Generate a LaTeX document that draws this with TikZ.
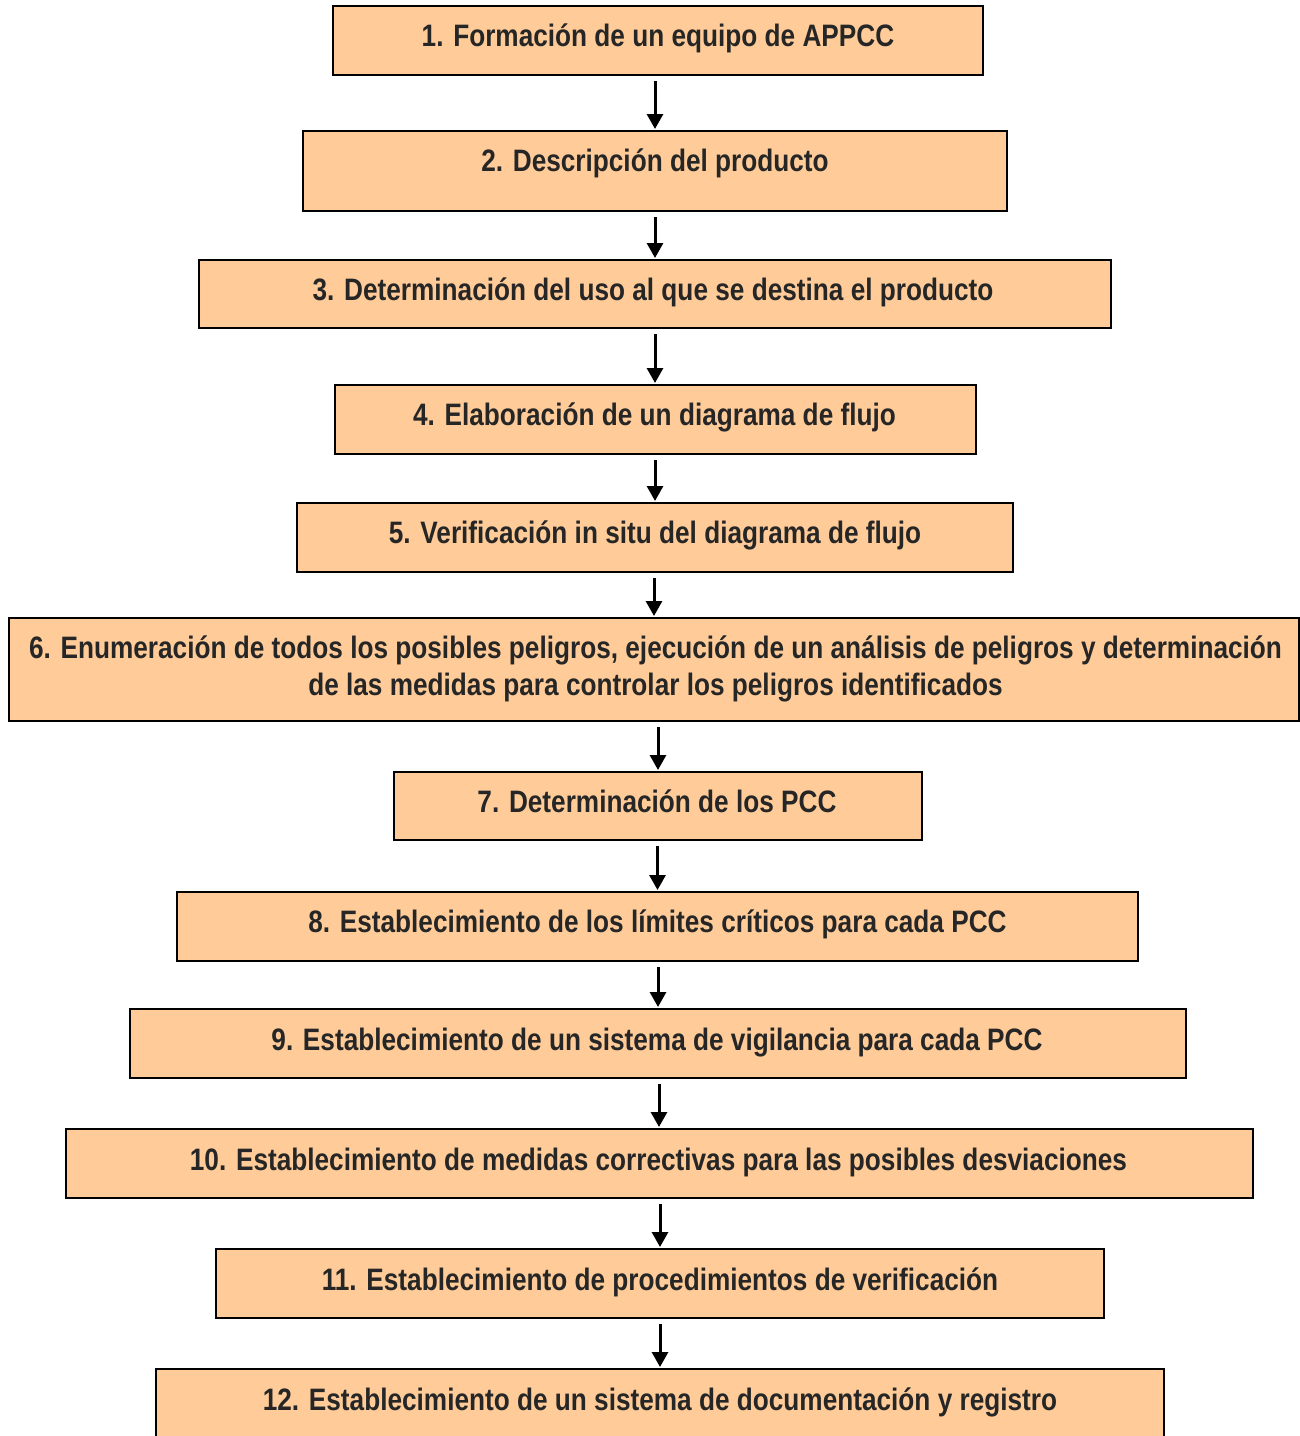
\documentclass[tikz,border=0pt]{standalone}
\usepackage{fontspec}
\setmainfont[FakeStretch=0.845]{Liberation Sans}
\usetikzlibrary{arrows.meta}
\definecolor{boxfill}{HTML}{FFCC99}
\definecolor{txt}{HTML}{262626}
\tikzset{
  box/.style={draw=black, line width=2pt, fill=boxfill, inner sep=0pt, outer sep=0pt},
  lbl/.style={anchor=base, inner sep=0pt, text=txt, font=\fontsize{31}{37}\selectfont\bfseries, align=center},
  flow/.style={-{Triangle[length=15pt,width=16pt]}, line width=3pt, shorten <=6pt, shorten >=2pt}
}
\begin{document}
\begin{tikzpicture}[x=1pt,y=-1pt]
\useasboundingbox (0,0) rectangle (1300,1436);
% boxes: centre x, centre y, width, height
\node[box, minimum width=650, minimum height=69] (b1) at (658,40.5) {};
\node[box, minimum width=704, minimum height=80] (b2) at (655,171) {};
\node[box, minimum width=912, minimum height=68] (b3) at (655,294) {};
\node[box, minimum width=641, minimum height=69] (b4) at (655,419.5) {};
\node[box, minimum width=716, minimum height=69] (b5) at (655,537.5) {};
\node[box, minimum width=1290, minimum height=103] (b6) at (654,669.5) {};
\node[box, minimum width=528, minimum height=68] (b7) at (658,806) {};
\node[box, minimum width=961, minimum height=69] (b8) at (657.5,926.5) {};
\node[box, minimum width=1056, minimum height=69] (b9) at (658,1043.5) {};
\node[box, minimum width=1187, minimum height=69] (b10) at (659,1163.5) {};
\node[box, minimum width=888, minimum height=69] (b11) at (660,1283.5) {};
\node[box, minimum width=1008, minimum height=90] (b12) at (660,1414) {};
% labels
\node[lbl] (t1) at (658,46) {1. Formación de un equipo de APPCC};
\node[lbl] (t2) at (655,171) {2. Descripción del producto};
\node[lbl] (t3) at (653,300) {3. Determinación del uso al que se destina el producto};
\node[lbl] (t4) at (654.5,425) {4. Elaboración de un diagrama de flujo};
\node[lbl] (t5) at (655,543) {5. Verificación in situ del diagrama de flujo};
\node[lbl] (t6a) at (655.5,658) {6. Enumeración de todos los posibles peligros, ejecución de un análisis de peligros y determinación};
\node[lbl] (t6b) at (655.5,695) {de las medidas para controlar los peligros identificados};
\node[lbl] (t7) at (657,812) {7. Determinación de los PCC};
\node[lbl] (t8) at (657.5,932) {8. Establecimiento de los límites críticos para cada PCC};
\node[lbl] (t9) at (657,1050) {9. Establecimiento de un sistema de vigilancia para cada PCC};
\node[lbl] (t10) at (658.5,1170) {10. Establecimiento de medidas correctivas para las posibles desviaciones};
\node[lbl] (t11) at (660,1290) {11. Establecimiento de procedimientos de verificación};
\node[lbl] (t12) at (660,1410) {12. Establecimiento de un sistema de documentación y registro};
% arrows
\foreach \a/\b in {b1/b2,b2/b3,b3/b4,b4/b5,b5/b6,b6/b7,b7/b8,b8/b9,b9/b10,b10/b11,b11/b12}
  \draw[flow] (\a.south -| \b) -- (\b.north);
\end{tikzpicture}
\end{document}
